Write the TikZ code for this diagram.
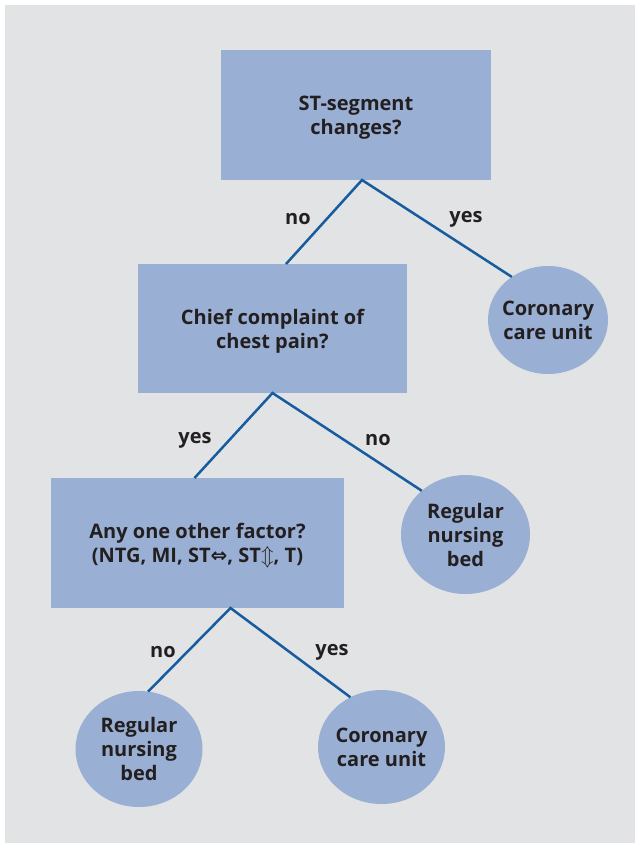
\documentclass[tikz,border=0pt]{standalone}
\usepackage{fontspec}
\setmainfont{Open Sans}
\newfontfamily\arrowfont{DejaVu Sans}
\usetikzlibrary{positioning, shapes.geometric}

\definecolor{panelgrey}{HTML}{E2E3E5}
\definecolor{boxblue}{HTML}{9AAFD4}
\definecolor{linkblue}{HTML}{165C9E}
\definecolor{inkgrey}{HTML}{231F20}

\tikzset{
    question/.style={rectangle, fill=boxblue, inner sep=0pt, outer sep=0pt, text depth=0pt,
        align=center, text=inkgrey, font=\bfseries\fontsize{20}{24}\selectfont},
    result/.style={ellipse, fill=boxblue, inner sep=-12pt, outer sep=0pt,
        align=center, text=inkgrey, font=\bfseries\fontsize{20}{24}\selectfont},
    branch/.style={draw=linkblue, line width=2.5pt},
    answer/.style={text=inkgrey, font=\bfseries\fontsize{20}{24}\selectfont}
}

\begin{document}
\begin{tikzpicture}[x=1pt, y=-1pt]

        \useasboundingbox (0,0) rectangle (635,843);
        \fill[panelgrey] (5,5) rectangle (635,843);

        % questions
        \node[question, minimum width=270, minimum height=130] (stseg) at (356,115) {ST-segment\\changes?};
        \node[question, minimum width=269, minimum height=129] (chest) at (272.5,328.5) {Chief complaint of\\chest pain?};
        \node[question, minimum width=293, minimum height=130] (other) at (197.5,543) {Any one other factor?\\(NTG, MI, ST{\arrowfont ⇔}, ST$\Updownarrow$, T)};

        % outcomes
        \node[result, minimum width=120, minimum height=108] (ccuA) at (548,320) {Coronary\\care unit};
        \node[result, minimum width=129, minimum height=119] (bedA) at (465.5,534.5) {Regular\\nursing\\bed};
        \node[result, minimum width=127, minimum height=116] (bedB) at (139,749) {Regular\\nursing\\bed};
        \node[result, minimum width=127, minimum height=114] (ccuB) at (381.5,747) {Coronary\\care unit};

        % branches
        \draw[branch] ([xshift=13.5]chest.north) -- ([xshift=6]stseg.south) -- (ccuA.130);
        \draw[branch] ([xshift=-3]other.north) -- (chest.south) -- (bedA.135);
        \draw[branch] (bedB.81) -- ([xshift=33]other.south) -- (ccuB.122);

        % answers
        \node[answer] (noA) at (298,219) {no};
        \node[answer] (yesA) at (466,219) {yes};
        \node[answer] (yesB) at (195,440) {yes};
        \node[answer] (noB) at (378,440) {no};
        \node[answer] (noC) at (163,652) {no};
        \node[answer] (yesC) at (332,652) {yes};

\end{tikzpicture}
\end{document}
